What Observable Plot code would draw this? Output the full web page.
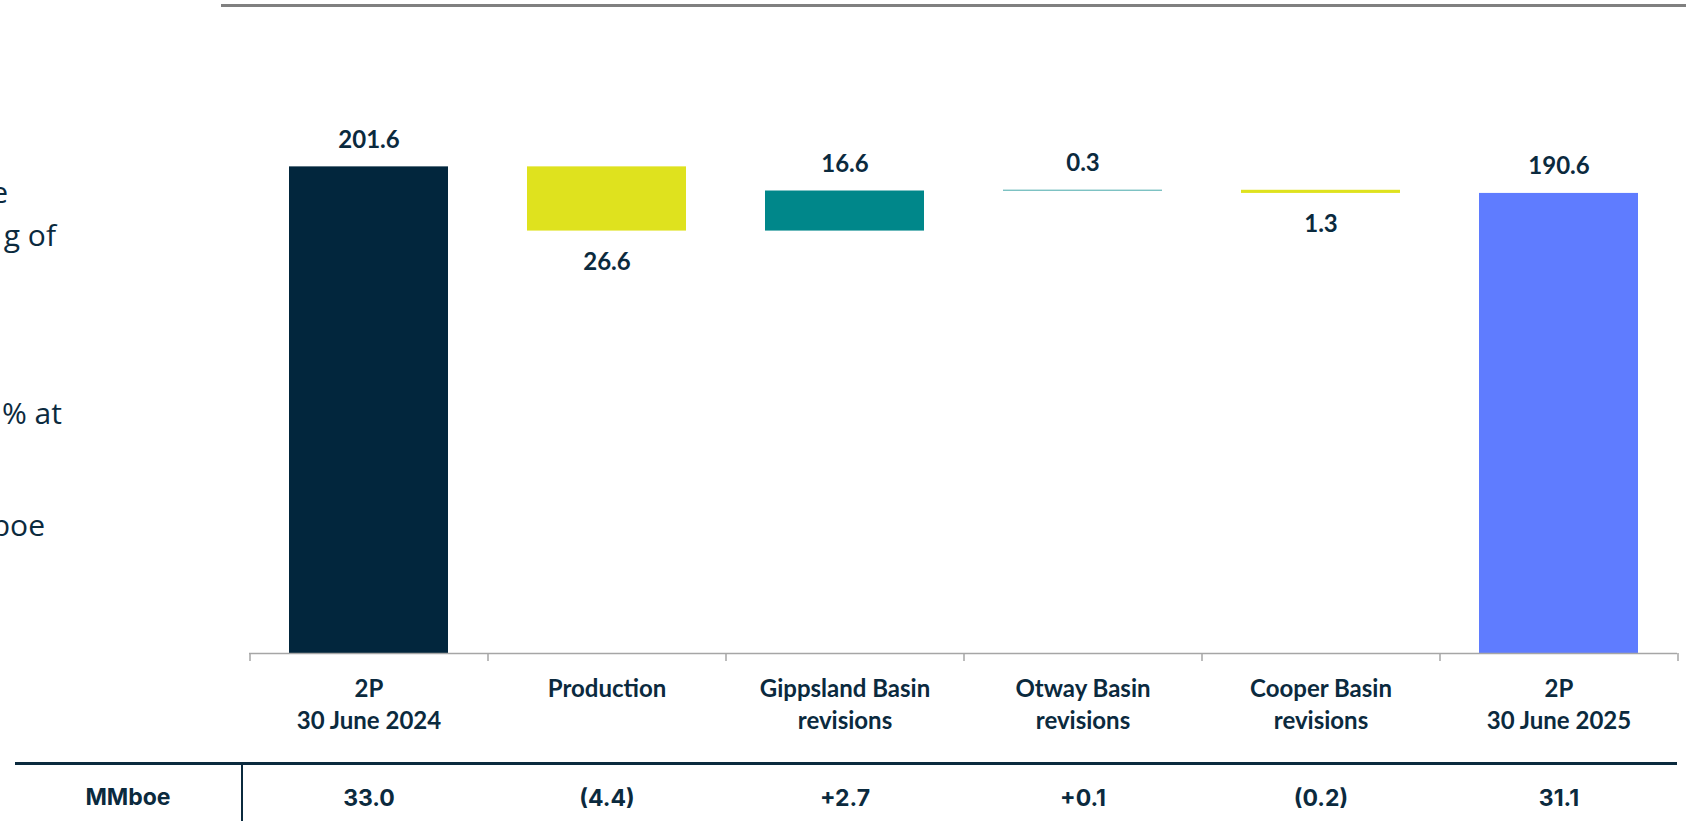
<!DOCTYPE html>
<html>
<head>
<meta charset="utf-8">
<script src="https://cdn.jsdelivr.net/npm/d3@7"></script>
<script src="https://cdn.jsdelivr.net/npm/@observablehq/plot@0.6"></script>
<style>
  html, body { margin: 0; padding: 0; background: #ffffff; }
  body { position: relative; width: 1686px; height: 821px; overflow: hidden; font-family: Lato, sans-serif; color: #0b2a3e; }
  #chart { position: absolute; left: 0; top: 0; }
  .ov { position: absolute; }
  .frag { position: absolute; font-family: "Open Sans", sans-serif; font-size: 30px; line-height: 30px; white-space: nowrap; color: #0b2a3e; }
</style>
</head>
<body>
<div id="chart"></div>
<script>
// ---- data ----
const categories = [
  "2P\n30 June 2024",
  "Production",
  "Gippsland Basin\nrevisions",
  "Otway Basin\nrevisions",
  "Cooper Basin\nrevisions",
  "2P\n30 June 2025"
];
const changes = [201.6, -26.6, 16.6, 0.3, -1.3, 190.6];
const kinds = ["start", "decrease", "increase", "increase", "decrease", "end"];
const mmboeLabel = "MMboe";
const mmboeValues = ["33.0", "(4.4)", "+2.7", "+0.1", "(0.2)", "31.1"];
const leftFragments = ["e", "g of", "% at", "boe"];

const kindDomain = ["start", "decrease", "increase", "end"];
const kindColors = ["#02263d", "#dfe21e", "#00878a", "#5f7cff"];
const textColor = "#0b2a3e";

// ---- derived waterfall table ----
let running = 0;
const rows = categories.map((cat, i) => {
  const v = changes[i], k = kinds[i];
  let a, b;
  if (k === "start" || k === "end") { a = 0; b = v; running = v; }
  else { a = running; b = running + v; running = b; }
  return { cat, kind: k, value: v, lo: Math.min(a, b), hi: Math.max(a, b), mmboe: mmboeValues[i] };
});
const above = rows.filter(d => d.kind !== "decrease");
const below = rows.filter(d => d.kind === "decrease");

const W = 1686, H = 821;
const mL = 249, mR = 9;
const halfStep = (W - mL - mR) / categories.length / 2;

const chart = Plot.plot({
  width: W,
  height: H,
  marginLeft: mL,
  marginRight: mR,
  marginTop: 25.4,
  marginBottom: 168,
  style: { fontFamily: "Lato, sans-serif", color: textColor, background: "transparent", overflow: "visible" },
  x: { domain: categories, paddingInner: 0.332, paddingOuter: 0.166, axis: null },
  y: { domain: [0, 260], axis: null },
  color: { type: "ordinal", domain: kindDomain, range: kindColors },
  marks: [
    Plot.rectY(rows, { x: "cat", y1: "lo", y2: "hi", fill: "kind" }),
    Plot.ruleY([0], { stroke: "#a6a6a6", strokeWidth: 1.5 }),
    Plot.ruleX(categories, { x: d => d, y1: 0, y2: 0, dx: -halfStep, insetBottom: -8, stroke: "#a6a6a6", strokeWidth: 1.5 }),
    Plot.ruleX(categories.slice(-1), { x: d => d, y1: 0, y2: 0, dx: halfStep, insetBottom: -8, stroke: "#a6a6a6", strokeWidth: 1.5 }),
    // category labels
    Plot.text(categories, {
      x: d => d, text: d => d, frameAnchor: "bottom", lineAnchor: "top", dy: 21,
      fontSize: 24, fontWeight: 700, lineHeight: 1.33, fill: textColor
    }),
    // value labels
    Plot.text(above, {
      x: "cat", y: "hi", text: d => Math.abs(d.value).toFixed(1), dy: -27,
      fontSize: 24, fontWeight: 700, fill: textColor
    }),
    Plot.text(below, {
      x: "cat", y: "lo", text: d => Math.abs(d.value).toFixed(1), dy: 31,
      fontSize: 24, fontWeight: 700, fill: textColor
    }),
    // MMboe table row
    Plot.text(rows, {
      x: "cat", text: "mmboe", frameAnchor: "bottom", lineAnchor: "middle", dy: 145,
      fontFamily: "Inter, sans-serif", fontSize: 23, fontWeight: 700, fill: textColor
    })
  ]
});
document.getElementById("chart").appendChild(chart);

// ---- overlays: rules and table header ----
function box(left, top, width, height, bg) {
  const d = document.createElement("div");
  d.className = "ov";
  Object.assign(d.style, { left: left + "px", top: top + "px", width: width + "px", height: height + "px", background: bg });
  document.body.appendChild(d);
}
box(221, 4, 1465, 3, "#808080");      // top rule
box(15, 762, 1662, 3, textColor);     // table rule
box(241, 763, 2, 58, textColor);      // table divider

const lab = document.createElement("div");
lab.className = "ov";
Object.assign(lab.style, { left: "0px", top: "785.5px", width: "256px", textAlign: "center",
  fontFamily: "Inter, sans-serif", fontSize: "23px", lineHeight: "23px", fontWeight: "700", color: textColor });
lab.textContent = mmboeLabel;
document.body.appendChild(lab);

// cropped slide text at left edge
const fragRight = [8, 56, 62, 45];
const fragCenterY = [196, 239, 417, 529];
leftFragments.forEach((t, i) => {
  const d = document.createElement("div");
  d.className = "frag";
  d.style.right = (W - fragRight[i]) + "px";
  d.style.top = (fragCenterY[i] - 18.6) + "px";
  d.textContent = t;
  document.body.appendChild(d);
});
</script>
</body>
</html>
